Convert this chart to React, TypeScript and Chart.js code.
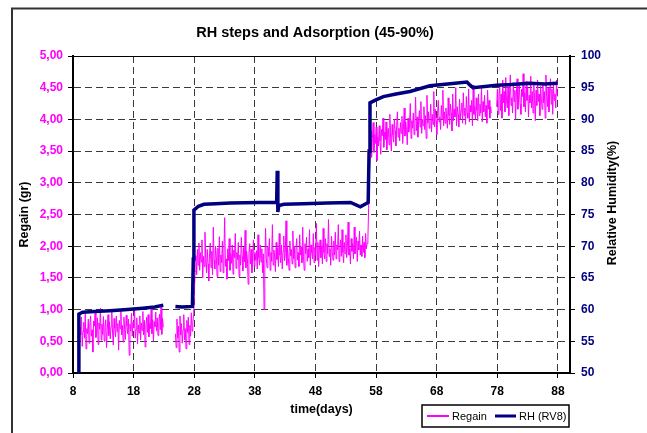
import React, { useEffect, useRef } from 'react';
import { Chart, registerables } from 'chart.js';

Chart.register(...registerables);

const chartTitle = 'RH steps and Adsorption (45-90%)';
const xTitle = 'time(days)';
const leftTitle = 'Regain (gr)';
const rightTitle = 'Relative Humidity(%)';
const legendLabels = ['Regain', 'RH (RV8)'];
const xTickValues = [8, 18, 28, 38, 48, 58, 68, 78, 88];

// Regain (gr): one reading every 0.125 day from day 8.9 (null = no data)
const regainStartDay = 8.9;
const regainStepDays = 0.125;
const regainValues: (number | null)[] = [
  0.05,
  // day 9.025 - 22.9
  0.48, 0.72, 0.60, 0.88, 0.42, 0.66, 0.80, 0.55, 0.93, 0.38,
  0.70, 0.62, 0.85, 0.47, 0.76, 0.90, 0.58, 0.68, 0.33, 0.82,
  0.74, 0.95, 0.56, 0.64, 0.87, 0.45, 0.79, 0.69, 1.02, 0.52,
  0.77, 0.61, 0.89, 0.50, 0.72, 0.84, 0.40, 0.67, 0.92, 0.59,
  0.81, 0.54, 0.73, 0.96, 0.63, 0.44, 0.86, 0.71, 0.57, 0.90,
  0.65, 0.78, 0.36, 0.83, 0.70, 0.99, 0.60, 0.75, 0.49, 0.88,
  0.68, 0.53, 0.91, 0.74, 0.62, 0.85, 0.28, 0.77, 0.66, 0.94,
  0.58, 0.80, 0.71, 1.04, 0.55, 0.69, 0.87, 0.46, 0.76, 0.63,
  0.90, 0.52, 0.79, 0.67, 0.97, 0.60, 0.83, 0.41, 0.74, 0.88,
  0.64, 0.92, 0.57, 0.78, 0.70, 1.01, 0.62, 0.84, 0.50, 0.81,
  0.73, 0.96, 0.66, 0.87, 0.59, 0.79, 0.93, 0.68, 1.05, 0.61,
  0.86, 0.72,
  // gap
  null, null, null, null, null, null, null, null, null, null, null, null, null, null, null,
  // day 24.9 - 27.775
  0.62, 0.40, 0.85, 0.55, 0.74, 0.33, 0.90, 0.60, 0.78, 0.47, 0.68, 0.92,
  0.52, 0.70, 0.38, 0.83, 0.64, 0.88, 0.45, 0.75, 0.58, 0.95, 0.66, 0.80,
  // step
  0.92, 1.25, 1.60, 1.85, 1.55, 1.95, 1.70, 2.05,
  // day 28.9 - 56.525
  1.62, 1.90, 1.75, 2.10, 1.50, 1.84, 1.68, 2.22, 1.80, 1.58,
  1.95, 1.72, 1.45, 1.88, 2.05, 1.66, 1.92, 1.55, 2.30, 1.78,
  1.64, 2.00, 1.83, 1.52, 1.97, 1.70, 2.15, 1.60, 1.86, 1.74,
  2.08, 1.58, 1.90, 2.45, 1.68, 1.80, 1.48, 1.96, 1.77, 2.12,
  1.62, 1.88, 1.73, 2.02, 1.56, 1.94, 1.82, 2.20, 1.65, 1.90,
  1.79, 2.06, 1.52, 1.86, 1.70, 2.14, 1.84, 1.61, 1.98, 1.75,
  2.25, 1.66, 1.92, 1.80, 1.40, 1.88, 2.04, 1.72, 1.95, 1.58,
  1.85, 2.10, 1.68, 1.90, 1.78, 1.93, 1.64, 2.18, 1.82, 1.70,
  2.02, 1.75, 1.96, 1.58, 1.88, 1.00, 1.72, 2.28, 1.80, 1.66,
  1.99, 1.84, 2.12, 1.62, 1.90, 1.76, 2.34, 1.70, 1.94, 1.83,
  1.60, 2.06, 1.79, 1.97, 1.68, 2.20, 1.86, 1.74, 2.02, 1.64,
  1.92, 2.16, 1.77, 1.88, 2.40, 1.70, 1.98, 1.82, 1.62, 2.08,
  1.85, 1.95, 1.72, 2.24, 1.80, 2.00, 1.66, 1.93, 2.12, 1.78,
  1.90, 1.68, 2.18, 1.86, 1.99, 1.74, 2.30, 1.84, 1.62, 2.04,
  1.88, 2.14, 1.76, 1.96, 1.82, 2.26, 1.70, 2.02, 1.90, 1.80,
  2.20, 1.74, 1.98, 1.86, 2.36, 1.78, 2.06, 1.68, 1.94, 2.10,
  1.82, 2.00, 1.72, 2.28, 1.90, 1.80, 2.12, 1.76, 2.04, 1.88,
  2.42, 1.84, 1.96, 1.70, 2.16, 1.92, 1.78, 2.08, 1.86, 2.22,
  1.80, 2.02, 1.94, 2.34, 1.76, 1.98, 2.10, 1.84, 2.26, 1.90,
  1.74, 2.06, 1.88, 2.18, 1.82, 2.00, 2.38, 1.86, 1.96, 1.72,
  2.12, 1.92, 2.04, 1.80, 2.30, 1.88, 1.98, 2.14, 1.76, 2.08,
  1.94, 2.24, 1.86, 2.02, 1.84, 2.16, 1.90, 2.06, 1.82, 2.20,
  1.96, 2.04,
  // step
  2.10, 2.60, 3.10,
  // day 57.025 - 77.025
  3.55, 3.82, 3.40, 3.70, 3.95, 3.48, 3.76, 3.62, 3.88, 3.35,
  3.72, 3.58, 3.90, 3.66, 3.45, 3.84, 3.74, 4.02, 3.56, 3.80,
  3.68, 3.96, 3.52, 3.78, 3.86, 3.60, 4.08, 3.70, 3.50, 3.92,
  3.76, 3.64, 4.00, 3.82, 3.58, 3.90, 4.12, 3.72, 3.86, 3.66,
  3.95, 3.78, 4.05, 3.62, 3.88, 4.18, 3.74, 3.96, 3.84, 3.60,
  4.02, 3.80, 3.92, 4.25, 3.70, 3.98, 3.86, 4.10, 3.76, 3.94,
  4.35, 3.82, 4.04, 3.72, 3.96, 4.14, 3.88, 4.28, 3.78, 4.00,
  3.90, 4.20, 3.84, 4.06, 3.70, 4.38, 3.94, 4.12, 3.86, 4.02,
  4.24, 3.80, 4.08, 3.92, 4.44, 3.88, 4.16, 3.98, 3.76, 4.10,
  4.30, 3.96, 4.04, 3.84, 4.22, 4.00, 4.46, 3.90, 4.12, 3.94,
  4.18, 4.02, 3.86, 4.34, 4.06, 3.92, 4.24, 4.10, 3.82, 4.40,
  3.98, 4.16, 4.04, 4.50, 3.90, 4.20, 4.08, 3.88, 4.32, 4.00,
  4.14, 4.26, 3.94, 4.42, 4.06, 4.18, 3.92, 4.36, 4.10, 4.02,
  4.48, 3.96, 4.22, 4.12, 4.30, 3.90, 4.54, 4.08, 4.20, 4.00,
  4.34, 4.14, 3.98, 4.40, 4.06, 4.24, 4.10, 4.52, 3.96, 4.28,
  4.12, 4.38, 4.04, 4.22, 3.94, 4.46, 4.16, 4.30, 4.02, 4.20,
  4.10,
  // gap
  null, null, null, null, null, null,
  // day 77.9 - 87.9
  4.20, 4.48, 4.08, 4.36, 4.56, 4.14, 4.40, 4.02, 4.62, 4.26,
  4.44, 4.12, 4.66, 4.30, 4.18, 4.52, 4.06, 4.38, 4.70, 4.22,
  4.34, 4.10, 4.58, 4.28, 4.46, 4.00, 4.40, 4.64, 4.16, 4.32,
  4.54, 4.24, 4.08, 4.48, 4.36, 4.72, 4.20, 4.42, 4.12, 4.60,
  4.30, 4.50, 4.04, 4.38, 4.26, 4.68, 4.18, 4.44, 4.10, 4.56,
  4.34, 3.98, 4.46, 4.22, 4.62, 4.28, 4.40, 4.06, 4.52, 4.32,
  4.16, 4.58, 4.26, 4.44, 4.02, 4.70, 4.36, 4.20, 4.50, 4.12,
  4.42, 4.64, 4.24, 4.48, 4.08, 4.56, 4.30, 4.40, 4.18, 4.62,
  4.36,
];

// RH (RV8) in %
const rhDays = [
  8.92, 8.97, 9.6, 11.5, 14.1, 17.0, 19.5, 21.5, 22.9, 23.9,
  24.9, 26.0, 27.7, 27.85, 27.95, 28.7, 29.6, 31.5, 34.0, 38.7,
  41.6, 41.7, 41.8, 41.95, 42.8, 46.0, 50.0, 53.8, 55.4, 56.7,
  56.85, 57.0, 57.8, 59.2, 61.3, 63.6, 66.9, 69.8, 73.0, 73.5,
  74.0, 77.9, 80.3, 83.3, 85.8, 87.9,
];
const rhValues: (number | null)[] = [
  50, 59.3, 59.6, 59.7, 59.8, 60.0, 60.2, 60.4, 60.7, null,
  60.5, 60.4, 60.5, 68.0, 75.7, 76.3, 76.6, 76.7, 76.8, 76.9,
  76.9, 81.9, 75.4, 76.4, 76.6, 76.7, 76.8, 76.9, 76.2, 76.9,
  85.0, 92.6, 93.0, 93.6, 94.0, 94.4, 95.3, 95.6, 95.9, 95.4,
  95.0, 95.4, 95.5, 95.7, 95.6, 95.7,
];

const FONT = '"Liberation Sans", Arial, sans-serif';
const REGAIN_COLOR = '#ff00ff';
const RH_COLOR = '#000080';
const GRID_COLOR = '#3a3a3a';

export default function App() {
  const ref = useRef<HTMLCanvasElement>(null);

  useEffect(() => {
    if (!ref.current) return;
    const regainPoints = regainValues.map((v, i) => ({
      x: Math.round((regainStartDay + i * regainStepDays) * 1000) / 1000,
      y: v,
    }));
    const rhPoints = rhDays.map((d, i) => ({ x: d, y: rhValues[i] }));

    const decor = {
      id: 'decor',
      beforeDraw(chart: any) {
        const ctx = chart.ctx;
        ctx.save();
        ctx.fillStyle = '#ffffff';
        ctx.fillRect(0, 0, chart.width, chart.height);
        ctx.strokeStyle = '#333333';
        ctx.lineWidth = 2;
        ctx.beginPath();
        ctx.moveTo(12, chart.height + 2);
        ctx.lineTo(12, 8.5);
        ctx.lineTo(chart.width + 2, 8.5);
        ctx.stroke();
        ctx.restore();
      },
      afterDraw(chart: any) {
        const ctx = chart.ctx;
        const a = chart.chartArea;
        ctx.save();
        ctx.strokeStyle = '#000';
        ctx.lineWidth = 1;
        ctx.beginPath();
        ctx.moveTo(a.left, Math.round(a.top) + 0.5);
        ctx.lineTo(a.right, Math.round(a.top) + 0.5);
        ctx.stroke();

        ctx.save();
        ctx.translate(613, 203);
        ctx.rotate(-Math.PI / 2);
        ctx.fillStyle = '#000';
        ctx.font = `bold 12.5px ${FONT}`;
        ctx.textAlign = 'center';
        ctx.textBaseline = 'middle';
        ctx.fillText(rightTitle, 0, 0);
        ctx.restore();

        const bx = 422, by = 405, bw = 147, bh = 22;
        ctx.strokeStyle = '#000';
        ctx.lineWidth = 1.5;
        ctx.strokeRect(bx, by, bw, bh);
        const cy = by + bh / 2;
        const ds = chart.data.datasets;
        ctx.font = `11px ${FONT}`;
        ctx.textBaseline = 'middle';
        ctx.textAlign = 'left';
        ctx.fillStyle = '#000';
        ctx.strokeStyle = ds[0].borderColor;
        ctx.lineWidth = 2;
        ctx.beginPath();
        ctx.moveTo(427, cy);
        ctx.lineTo(449, cy);
        ctx.stroke();
        ctx.fillText(ds[0].label, 452, cy + 0.5);
        ctx.strokeStyle = ds[1].borderColor;
        ctx.lineWidth = 3;
        ctx.beginPath();
        ctx.moveTo(495, cy);
        ctx.lineTo(516, cy);
        ctx.stroke();
        ctx.fillText(ds[1].label, 519, cy + 0.5);
        ctx.restore();
      },
    };

    const tickFont = { family: FONT, size: 12, weight: 'bold' as const };
    const titleFont = { family: FONT, size: 12.5, weight: 'bold' as const };

    const chart = new Chart(ref.current, {
      type: 'line',
      data: {
        datasets: [
          {
            label: legendLabels[0],
            data: regainPoints,
            borderColor: REGAIN_COLOR,
            backgroundColor: REGAIN_COLOR,
            borderWidth: 1,
            yAxisID: 'y',
            order: 2,
            spanGaps: false,
          },
          {
            label: legendLabels[1],
            data: rhPoints,
            borderColor: RH_COLOR,
            backgroundColor: RH_COLOR,
            borderWidth: 3.5,
            yAxisID: 'y1',
            order: 1,
            spanGaps: false,
          },
        ],
      },
      options: {
        responsive: false,
        animation: false,
        devicePixelRatio: 1,
        layout: { padding: { left: 0, right: 17, top: 0, bottom: 0 } },
        elements: { point: { radius: 0 }, line: { tension: 0 } },
        plugins: {
          legend: { display: false },
          tooltip: { enabled: false },
          title: {
            display: true,
            text: chartTitle,
            color: '#000',
            font: { family: FONT, size: 14.5, weight: 'bold' },
            padding: { top: 24, bottom: 14.6 },
          },
        },
        scales: {
          x: {
            type: 'linear',
            min: 8,
            max: 90,
            afterBuildTicks: (s: any) => {
              s.ticks = xTickValues.map((v) => ({ value: v }));
            },
            afterFit: (s: any) => {
              s.height = 60;
            },
            ticks: {
              autoSkip: false,
              maxRotation: 0,
              color: '#000',
              font: tickFont,
              padding: 6,
              callback: (v: any) => String(v),
            },
            grid: { color: GRID_COLOR, lineWidth: 1, tickLength: 5, tickColor: '#000' },
            border: { color: '#000', width: 2, dash: [7, 4] },
            title: {
              display: true,
              text: xTitle,
              color: '#000',
              font: titleFont,
              padding: { top: 0, bottom: 15.5 },
            },
          },
          y: {
            type: 'linear',
            position: 'left',
            min: 0,
            max: 5,
            afterFit: (s: any) => {
              s.width = 73;
            },
            ticks: {
              stepSize: 0.5,
              color: REGAIN_COLOR,
              font: tickFont,
              padding: 5,
              callback: (v: any) => Number(v).toFixed(2).replace('.', ','),
            },
            grid: { color: GRID_COLOR, lineWidth: 1, tickLength: 5, tickColor: '#000' },
            border: { color: '#000', width: 2, dash: [7, 4] },
            title: {
              display: true,
              text: leftTitle,
              color: '#000',
              font: titleFont,
              padding: { top: 17.5, bottom: 0 },
            },
          },
          y1: {
            type: 'linear',
            position: 'right',
            min: 50,
            max: 100,
            afterFit: (s: any) => {
              s.width = 60;
            },
            ticks: {
              stepSize: 5,
              color: RH_COLOR,
              font: tickFont,
              padding: 6,
            },
            grid: { drawOnChartArea: false, tickLength: 5, tickColor: '#000', color: '#000' },
            border: { color: '#000', width: 2 },
          },
        },
      },
      plugins: [decor],
    } as any);

    return () => chart.destroy();
  }, []);

  return (
    <div style={{ position: 'fixed', left: 0, top: 0, width: 647, height: 433, background: '#fff' }}>
      <canvas ref={ref} width={647} height={433} style={{ display: 'block' }} />
    </div>
  );
}
